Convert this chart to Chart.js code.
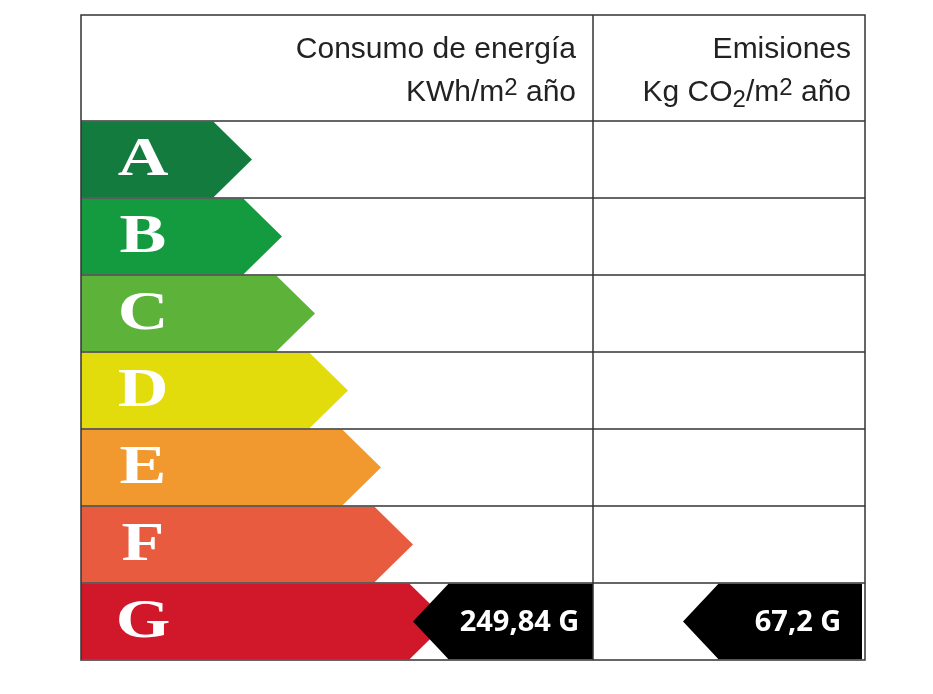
<!DOCTYPE html>
<html><head><meta charset="utf-8">
<script src="https://cdn.jsdelivr.net/npm/chart.js@4"></script>
<style>html,body{margin:0;padding:0;background:#fff}canvas{display:block}</style>
</head><body>
<canvas id="c" width="933" height="694" style="width:933px;height:694px"></canvas>
<script>
const categories = ['A','B','C','D','E','F','G'];
const arrowLengths = [133,163,196,229,262,294,329];
const arrowColors = ['#137b3d','#149a3f','#5db23a','#e3dc0c','#f1982f','#e85b3f','#d1182b'];
const consumoRange = [367,512];
const emisionRange = [637,781];
const consumoLabel = '249,84 G';
const emisionLabel = '67,2 G';
const TIP = 38;

function tipsPlugin(){return{id:'deco',
 afterDatasetsDraw(chart){
  const ctx=chart.ctx, a=chart.chartArea;
  ctx.save();
  // arrow tips
  chart.getDatasetMeta(0).data.forEach((el,i)=>{
    const h=el.height/2;
    ctx.fillStyle=arrowColors[i];
    ctx.beginPath();ctx.moveTo(el.x-0.5,el.y-h);ctx.lineTo(el.x+TIP,el.y);ctx.lineTo(el.x-0.5,el.y+h);ctx.closePath();ctx.fill();
    ctx.fillStyle='#fff';ctx.font='bold 54px "Liberation Serif"';ctx.textAlign='center';ctx.textBaseline='middle';
    ctx.save();ctx.translate(143,el.y+2);ctx.scale(1.3,1);ctx.fillText(categories[i],0,0);ctx.restore();
  });
  // markers
  [[1,consumoLabel],[2,emisionLabel]].forEach(([d,lab])=>{
    const el=chart.getDatasetMeta(d).data[6];
    const h=el.height/2, left=Math.min(el.x,el.base), right=Math.max(el.x,el.base);
    ctx.fillStyle='#000';
    ctx.beginPath();ctx.moveTo(left+0.5,el.y-h);ctx.lineTo(left-TIP+3,el.y);ctx.lineTo(left+0.5,el.y+h);ctx.closePath();ctx.fill();
    ctx.fillStyle='#fff';ctx.font='bold 29px "Open Sans"';ctx.textAlign='center';ctx.textBaseline='middle';
    ctx.fillText(lab,(left+right)/2+(d==1?-1:8),el.y+1);
  });
  // table lines
  const ys=chart.scales.y;
  ctx.strokeStyle='#333';ctx.lineWidth=1.5;
  ctx.strokeRect(a.left,15,a.right-a.left,a.bottom-15);
  for(let i=0;i<categories.length;i++){
    const y=ys.getPixelForValue(i)-(ys.getPixelForValue(1)-ys.getPixelForValue(0))/2;
    ctx.beginPath();ctx.moveTo(a.left,y);ctx.lineTo(a.right,y);ctx.stroke();
  }
  const xd=chart.scales.x.getPixelForValue(512);
  ctx.beginPath();ctx.moveTo(xd,15);ctx.lineTo(xd,a.bottom);ctx.stroke();
  // headers
  ctx.fillStyle='#222';ctx.textBaseline='alphabetic';
  const F='30px "Liberation Sans"', S='24px "Liberation Sans"';
  function rich(parts,right,y){
    let w=0;parts.forEach(p=>{ctx.font=p[1]?S:F;w+=ctx.measureText(p[0]).width;});
    let x=right-w;ctx.textAlign='left';
    parts.forEach(p=>{ctx.font=p[1]?S:F;ctx.fillText(p[0],x,y+(p[1]||0));x+=ctx.measureText(p[0]).width;});
  }
  rich([['Consumo de energía']],576,58);
  rich([['KWh/m'],['2',-6],[' año']],576,101);
  rich([['Emisiones']],851,58);
  rich([['Kg CO'],['2',6],['/m'],['2',-6],[' año']],851,101);
  ctx.restore();
 }}}

new Chart(document.getElementById('c'),{
 type:'bar',
 data:{labels:categories,datasets:[
  {data:arrowLengths,backgroundColor:arrowColors,barPercentage:0.98,categoryPercentage:1},
  {data:[null,null,null,null,null,null,consumoRange],backgroundColor:'#000',grouped:false,barPercentage:0.98,categoryPercentage:1},
  {data:[null,null,null,null,null,null,emisionRange],backgroundColor:'#000',grouped:false,barPercentage:0.98,categoryPercentage:1}
 ]},
 options:{indexAxis:'y',responsive:false,animation:false,
  layout:{padding:{left:81,right:68,top:121,bottom:34}},
  plugins:{legend:{display:false},tooltip:{enabled:false}},
  scales:{x:{display:false,min:0,max:784},y:{display:false}}},
 plugins:[tipsPlugin()]
});
</script></body></html>
